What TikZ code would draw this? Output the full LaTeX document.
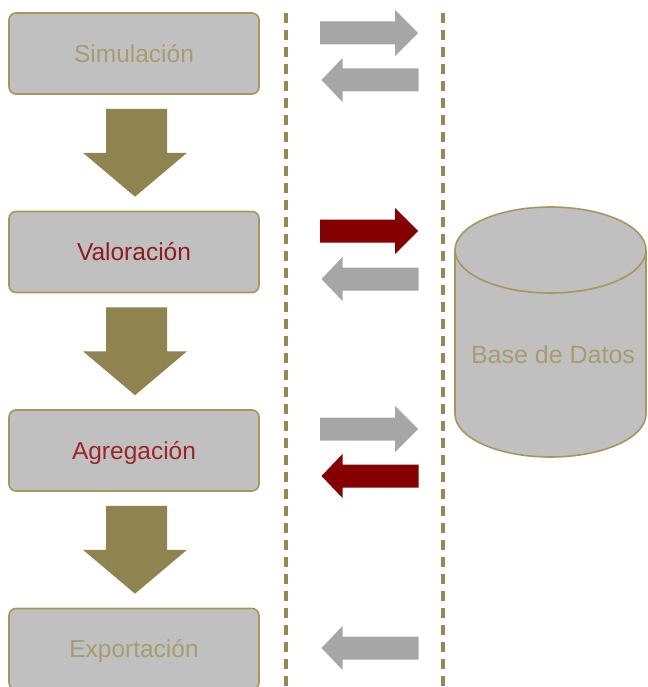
\documentclass[tikz,border=0pt]{standalone}
\usepackage{fontspec}
\setmainfont{Liberation Sans}
\usetikzlibrary{calc}
\definecolor{boxfill}{HTML}{C0C0C0}
\definecolor{olive}{HTML}{A6975F}
\definecolor{arrowolive}{HTML}{8F8350}
\definecolor{dashcol}{HTML}{978852}
\definecolor{softtext}{HTML}{A89C6E}
\definecolor{darkred}{HTML}{850000}
\definecolor{redtext}{HTML}{8E1C1C}
\definecolor{redtextb}{HTML}{9C2626}
\definecolor{grayarrow}{HTML}{A6A6A6}
\tikzset{
  stagebox/.style={draw=olive, line width=1.6pt, fill=boxfill, rounded corners=7pt,
    minimum width=250pt, minimum height=81pt, inner sep=0pt,
    text height=17.5pt, text depth=0pt,
    font=\fontsize{24.5}{29}\selectfont},
  downarr/.style={fill=arrowolive},
  dashline/.style={draw=dashcol, line width=3.2pt, dash pattern=on 10pt off 7pt},
  rarr/.pic={\fill[pic actions] (-49,-11.5) -- (26,-11.5) -- (26,-23) -- (49,0) -- (26,23) -- (26,11.5) -- (-49,11.5) -- cycle;},
  larr/.pic={\fill[pic actions] (49,-11.5) -- (-27,-11.5) -- (-27,-22) -- (-48,0) -- (-27,22) -- (-27,11.5) -- (49,11.5) -- cycle;}
}
\begin{document}
\begin{tikzpicture}[x=1pt,y=-1pt]
\useasboundingbox (0,0) rectangle (647,687);
\clip (0,0) rectangle (647,687);
% stage boxes
\node[stagebox, text=softtext] (b1) at (134,53.5) {Simulación};
\node[stagebox, text=redtext] (b2) at (134,252) {Valoración};
\node[stagebox, text=redtextb] (b3) at (134,450.5) {Agregación};
\node[stagebox, text=softtext] (b4) at (134,649) {Exportación};
% block arrows between stages
\foreach \a/\b in {b1/b2,b2/b3,b3/b4}{
  \fill[downarr] ($(\a.south)+(-28,14)$) -- ($(\a.south)+(33,14)$) -- ($(\a.south)+(33,58)$)
    -- ($(\a.south)+(53,58)$) -- ($(\b.north)+(1,-14)$) -- ($(\a.south)+(-51,58)$)
    -- ($(\a.south)+(-28,58)$) -- cycle;
}
% dashed separators
\coordinate (d1t) at (286,13); \coordinate (d1b) at (286,690);
\coordinate (d2t) at (443,13); \coordinate (d2b) at (443,690);
\draw[dashline] (d1t) -- (d1b);
\draw[dashline] (d2t) -- (d2b);
% horizontal exchange arrows
\pic[fill=grayarrow] at (369,33) {rarr};
\pic[fill=grayarrow] at (369.5,80) {larr};
\pic[fill=darkred] at (369,231) {rarr};
\pic[fill=grayarrow] at (369.5,279) {larr};
\pic[fill=grayarrow] at (369,429) {rarr};
\pic[fill=darkred] at (369.5,476) {larr};
\pic[fill=grayarrow] at (369.5,648) {larr};
% database cylinder
\fill[boxfill] (455,250) -- (455,414) arc[start angle=180,end angle=360,x radius=95.5pt,y radius=43pt]
  -- (646,250) arc[start angle=0,end angle=180,x radius=95.5pt,y radius=43pt] -- cycle;
\draw[olive, line width=1.6pt] (455,250) -- (455,414) arc[start angle=180,end angle=360,x radius=95.5pt,y radius=43pt]
  -- (646,250) arc[start angle=0,end angle=180,x radius=95.5pt,y radius=43pt];
\draw[olive, line width=1.6pt] (455,250) arc[start angle=180,end angle=360,x radius=95.5pt,y radius=43pt];
\node[text=softtext, font=\fontsize{25}{30}\selectfont, text height=18pt, text depth=0pt] (db) at (553,354.5) {Base de Datos};
\end{tikzpicture}
\end{document}
